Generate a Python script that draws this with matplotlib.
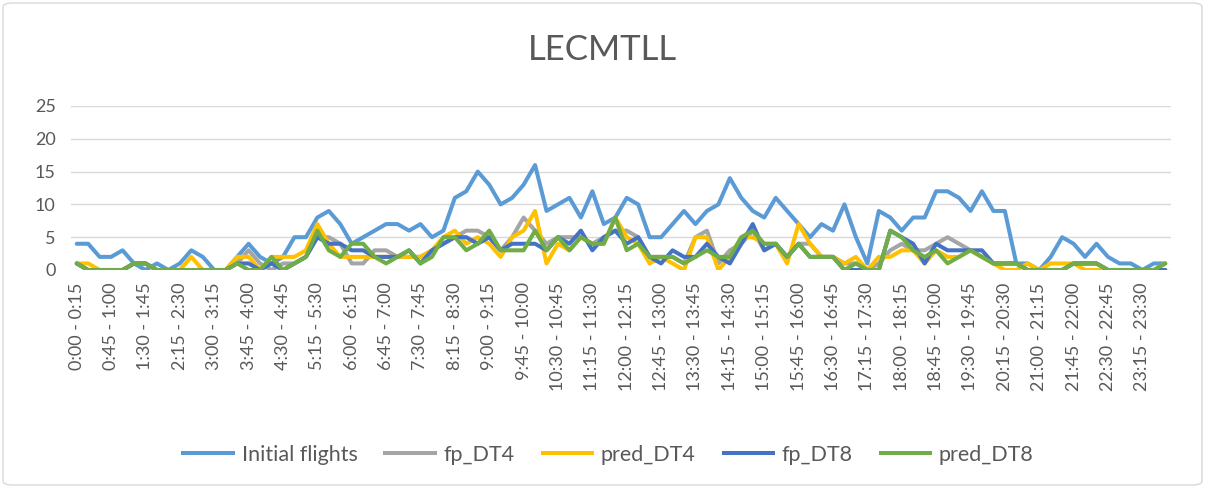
import matplotlib
matplotlib.use("Agg")
import matplotlib.pyplot as plt
from matplotlib.patches import FancyBboxPatch
from matplotlib.lines import Line2D

plt.rcParams['font.family'] = ['Lato', 'DejaVu Sans']

title = "LECMTLL"

initial_flights = [4, 4, 2, 2, 3, 1, 0, 1, 0, 1, 3, 2, 0, 0, 2, 4, 2, 1, 2,
                   5, 5, 8, 9, 7, 4, 5, 6, 7, 7, 6, 7, 5, 6, 11, 12, 15, 13, 10,
                   11, 13, 16, 9, 10, 11, 8, 12, 7, 8, 11, 10, 5, 5, 7, 9, 7, 9, 10, 14,
                   11, 9, 8, 11, 9, 7, 5, 7, 6, 10, 5, 1, 9, 8, 6, 8, 8, 12, 12,
                   11, 9, 12, 9, 9, 1, 1, 0, 2, 5, 4, 2, 4, 2, 1, 1, 0, 1, 1]
fp_DT4 = [1, 0, 0, 0, 0, 1, 1, 0, 0, 0, 0, 0, 0, 0, 1, 3, 1, 0, 1,
          1, 2, 5, 5, 4, 1, 1, 3, 3, 2, 2, 2, 3, 4, 5, 6, 6, 5, 3,
          5, 8, 6, 4, 5, 5, 5, 4, 5, 6, 6, 5, 2, 2, 2, 1, 5, 6, 1, 3,
          4, 6, 3, 4, 2, 4, 4, 2, 2, 1, 1, 0, 1, 3, 4, 3, 3, 4, 5,
          4, 3, 2, 1, 1, 1, 0, 0, 0, 0, 1, 1, 1, 0, 0, 0, 0, 0, 0]
pred_DT4 = [1, 1, 0, 0, 0, 1, 1, 0, 0, 0, 2, 0, 0, 0, 2, 2, 0, 2, 2,
            2, 3, 7, 4, 2, 2, 2, 2, 2, 2, 2, 2, 3, 5, 6, 4, 5, 4, 2,
            5, 6, 9, 1, 4, 3, 5, 4, 4, 8, 5, 4, 1, 2, 1, 0, 5, 5, 0, 2,
            5, 5, 4, 4, 1, 7, 4, 2, 2, 1, 2, 0, 2, 2, 3, 3, 1, 3, 2,
            2, 3, 2, 1, 0, 0, 1, 0, 1, 1, 1, 0, 0, 0, 0, 0, 0, 0, 1]
fp_DT8 = [1, 0, 0, 0, 0, 1, 1, 0, 0, 0, 0, 0, 0, 0, 1, 1, 0, 1, 0,
          1, 2, 5, 4, 4, 3, 3, 2, 2, 2, 3, 1, 3, 4, 5, 5, 4, 5, 3,
          4, 4, 4, 3, 5, 4, 6, 3, 5, 6, 4, 5, 2, 1, 3, 2, 2, 4, 2, 1,
          4, 7, 3, 4, 2, 4, 2, 2, 2, 0, 0, 0, 0, 6, 5, 4, 1, 4, 3,
          3, 3, 3, 1, 1, 1, 0, 0, 0, 0, 1, 1, 1, 0, 0, 0, 0, 0, 0]
pred_DT8 = [1, 0, 0, 0, 0, 1, 1, 0, 0, 0, 0, 0, 0, 0, 1, 0, 0, 2, 0,
            1, 2, 6, 3, 2, 4, 4, 2, 1, 2, 3, 1, 2, 5, 5, 3, 4, 6, 3,
            3, 3, 6, 3, 5, 3, 5, 4, 4, 8, 3, 4, 2, 2, 2, 1, 2, 3, 2, 2,
            5, 6, 4, 4, 2, 4, 2, 2, 2, 0, 1, 0, 0, 6, 5, 3, 2, 3, 1,
            2, 3, 2, 1, 1, 1, 0, 0, 0, 0, 1, 1, 1, 0, 0, 0, 0, 0, 1]

tick_labels = ["0:00 - 0:15", "0:45 - 1:00", "1:30 - 1:45", "2:15 - 2:30",
               "3:00 - 3:15", "3:45 - 4:00", "4:30 - 4:45", "5:15 - 5:30",
               "6:00 - 6:15", "6:45 - 7:00", "7:30 - 7:45", "8:15 - 8:30",
               "9:00 - 9:15", "9:45 - 10:00", "10:30 - 10:45", "11:15 - 11:30",
               "12:00 - 12:15", "12:45 - 13:00", "13:30 - 13:45", "14:15 - 14:30",
               "15:00 - 15:15", "15:45 - 16:00", "16:30 - 16:45", "17:15 - 17:30",
               "18:00 - 18:15", "18:45 - 19:00", "19:30 - 19:45", "20:15 - 20:30",
               "21:00 - 21:15", "21:45 - 22:00", "22:30 - 22:45", "23:15 - 23:30"]

series = [("Initial flights", initial_flights, "#5B9BD5"),
          ("fp_DT4", fp_DT4, "#A5A5A5"),
          ("pred_DT4", pred_DT4, "#FFC000"),
          ("fp_DT8", fp_DT8, "#4472C4"),
          ("pred_DT8", pred_DT8, "#70AD47")]

W, H = 1205, 488
fig = plt.figure(figsize=(W / 100, H / 100), dpi=100)

border = FancyBboxPatch((3 / W, 3 / H), 1 - 6 / W, 1 - 6 / H,
                        boxstyle="round,pad=0,rounding_size=0.008",
                        transform=fig.transFigure, facecolor="none",
                        edgecolor="#D9D9D9", linewidth=1.0, zorder=-5)
fig.patches.append(border)

ax = fig.add_axes([71 / W, 1 - 270 / H, (1171 - 71) / W, (270 - 106) / H])
ax.set_facecolor("none")

n = len(initial_flights)
x = list(range(n))
handles = []
for name, vals, col in series:
    ax.plot(x[:len(vals)], vals, color=col, linewidth=2.9,
            solid_joinstyle="round", solid_capstyle="round", zorder=3)
    handles.append(Line2D([], [], color=col, linewidth=2.9))

ax.set_xlim(-0.5, n - 0.5)
ax.set_ylim(0, 25)
ax.set_yticks([0, 5, 10, 15, 20, 25])
ax.grid(axis="y", color="#D9D9D9", linewidth=1.0, zorder=0)
ax.set_axisbelow(True)
for s in ax.spines.values():
    s.set_visible(False)
ax.set_xticks(list(range(0, n, 3))[:len(tick_labels)])
ax.set_xticklabels(tick_labels, rotation=90, fontsize=13, color="#595959")
ax.tick_params(axis="x", length=0, pad=9)
ax.tick_params(axis="y", length=0, pad=11, labelsize=13, labelcolor="#595959")

fig.text(0.5, 1 - 50 / H, title, ha="center", va="center", fontsize=25,
         color="#595959")

fig.legend(handles, [s[0] for s in series], loc="center",
           bbox_to_anchor=(0.505, 1 - 455 / H), ncol=5, frameon=False,
           fontsize=15.5, handlelength=2.3, columnspacing=1.3,
           labelcolor="#595959", handletextpad=0.4)

fig.savefig("out.png", dpi=100)
